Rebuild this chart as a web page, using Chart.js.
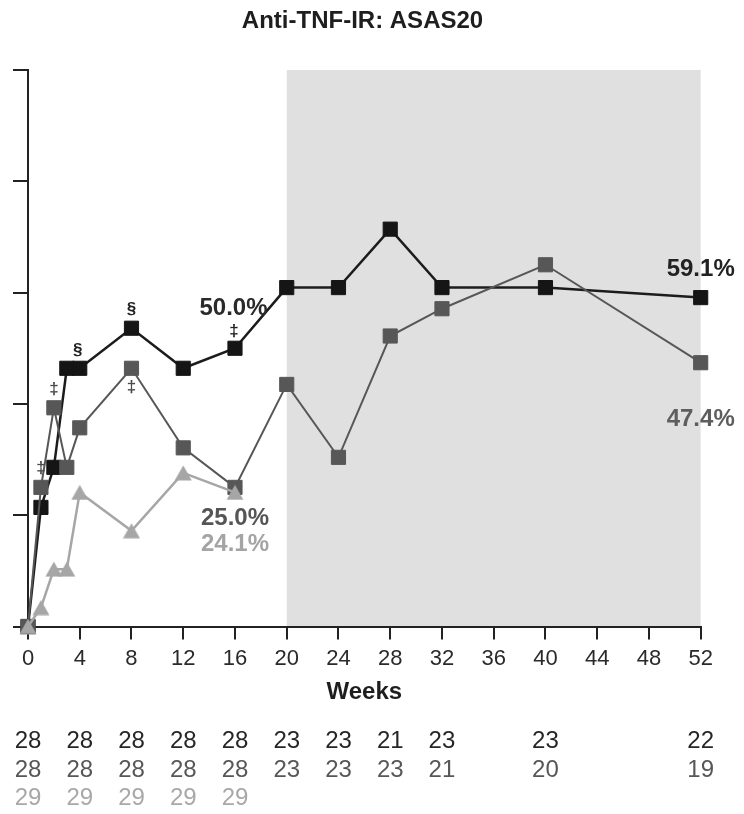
<!DOCTYPE html>
<html>
<head>
<meta charset="utf-8">
<script src="https://cdn.jsdelivr.net/npm/chart.js@4.4.0/dist/chart.umd.min.js"></script>
<style>
  html, body { margin: 0; padding: 0; background: #ffffff; }
  canvas { display: block; }
</style>
</head>
<body>
<canvas id="asas" width="744" height="814"></canvas>
<script>
// ---- data (percent of responders) ----
const weeks        = [0, 1, 2, 3, 4, 8, 12, 16, 20, 24, 28, 32, 40, 52];
const highDose     = [0, 21.4, 28.6, 46.4, 46.4, 53.6, 46.4, 50.0, 60.9, 60.9, 71.4, 60.9, 60.9, 59.1];
const lowDose      = [0, 25.0, 39.3, 28.6, 35.7, 46.4, 32.1, 25.0, 43.5, 30.4, 52.2, 57.1, 65.0, 47.4];
const placeboWeeks = [0, 1, 2, 3, 4, 8, 12, 16];
const placebo      = [0, 3.4, 10.3, 10.3, 24.1, 17.2, 27.6, 24.1];

const weekTicks = [0, 4, 8, 12, 16, 20, 24, 28, 32, 36, 40, 44, 48, 52];
const pctTicks  = [0, 20, 40, 60, 80, 100];

// patients at each visit
const atRiskWeeks   = [0, 4, 8, 12, 16, 20, 24, 28, 32, 40, 52];
const atRiskHigh    = [28, 28, 28, 28, 28, 23, 23, 21, 23, 23, 22];
const atRiskLow     = [28, 28, 28, 28, 28, 23, 23, 23, 21, 20, 19];
const atRiskPlacebo = [29, 29, 29, 29, 29];

// shaded extension period
const extensionStart = 20;
const extensionEnd   = 52;

const FONT = "'Liberation Sans', Arial, Helvetica, sans-serif";
const C_HIGH = '#151515', C_LOW = '#575757', C_PBO = '#a6a6a6';

const toXY = (xs, ys) => xs.map((x, i) => ({ x: x, y: ys[i] }));
const valueAt = (xs, ys, w) => ys[xs.indexOf(w)];

// upward triangle marker centred on its bounding box
function makeTriangle(w, h, color) {
  const c = document.createElement('canvas');
  c.width = w; c.height = h;
  const g = c.getContext('2d');
  g.fillStyle = color;
  g.beginPath();
  g.moveTo(w / 2, 0.5);
  g.lineTo(w - 0.5, h - 0.5);
  g.lineTo(0.5, h - 0.5);
  g.closePath();
  g.fill();
  return c;
}
const triangle = makeTriangle(18, 16, C_PBO);

const decor = {
  id: 'decor',
  beforeDraw(chart) {
    const { ctx } = chart;
    const xs = chart.scales.x, ys = chart.scales.y;
    ctx.save();
    ctx.fillStyle = '#ffffff';
    ctx.fillRect(0, 0, chart.width, chart.height);
    const x0 = xs.getPixelForValue(extensionStart), x1 = xs.getPixelForValue(extensionEnd);
    const y0 = ys.getPixelForValue(100), y1 = ys.getPixelForValue(0);
    ctx.fillStyle = '#e0e0e0';
    ctx.fillRect(x0, y0, x1 - x0, y1 - y0);
    ctx.restore();
  },
  afterDatasetsDraw(chart) {
    const { ctx } = chart;
    const xs = chart.scales.x, ys = chart.scales.y;
    const px = w => xs.getPixelForValue(w);
    const py = v => ys.getPixelForValue(v);
    ctx.save();
    ctx.textAlign = 'center';
    ctx.textBaseline = 'middle';

    // value call-outs
    const pct = v => v.toFixed(1) + '%';
    ctx.font = 'bold 24px ' + FONT;
    const h16 = valueAt(weeks, highDose, 16), l16 = valueAt(weeks, lowDose, 16);
    const p16 = valueAt(placeboWeeks, placebo, 16);
    const h52 = valueAt(weeks, highDose, 52), l52 = valueAt(weeks, lowDose, 52);
    ctx.fillStyle = '#2a2a2a'; ctx.fillText(pct(h16), px(16) - 1.5, py(h16) - 40);
    ctx.fillStyle = '#555555'; ctx.fillText(pct(l16), px(16), py(l16) + 31);
    ctx.fillStyle = '#a4a4a4'; ctx.fillText(pct(p16), px(16), py(p16) + 52);
    ctx.fillStyle = '#222222'; ctx.fillText(pct(h52), px(52), py(h52) - 28);
    ctx.fillStyle = '#5e5e5e'; ctx.fillText(pct(l52), px(52), py(l52) + 57);

    // significance symbols
    ctx.font = 'bold 17px ' + FONT;
    const marks = [
      { vals: highDose, week: 4,  sym: '\u00A7', dy: -18, dx: -2, color: '#222' },
      { vals: highDose, week: 8,  sym: '\u00A7', dy: -19, dx: 0,  color: '#222' },
      { vals: highDose, week: 16, sym: '\u2021', dy: -17, dx: -1, color: '#222' },
      { vals: lowDose,  week: 1,  sym: '\u2021', dy: -19, dx: 0,  color: '#4a4a4a' },
      { vals: lowDose,  week: 2,  sym: '\u2021', dy: -18.5, dx: 0, color: '#4a4a4a' },
      { vals: lowDose,  week: 8,  sym: '\u2021', dy: 19,  dx: 0,  color: '#4a4a4a' }
    ];
    marks.forEach(m => {
      ctx.fillStyle = m.color;
      ctx.fillText(m.sym, px(m.week) + m.dx, py(valueAt(weeks, m.vals, m.week)) + m.dy);
    });
    ctx.restore();
  },
  afterDraw(chart) {
    const { ctx } = chart;
    const xs = chart.scales.x;
    ctx.save();
    ctx.textAlign = 'center';
    ctx.textBaseline = 'middle';

    ctx.font = 'bold 24px ' + FONT;
    ctx.fillStyle = '#1e1e1e';
    ctx.fillText('Anti-TNF-IR: ASAS20', 362.5, 21);

    ctx.font = '24px ' + FONT;
    const rows = [
      { vals: atRiskHigh,    y: 741, color: '#262626' },
      { vals: atRiskLow,     y: 770, color: '#575757' },
      { vals: atRiskPlacebo, y: 798, color: '#a8a8a8' }
    ];
    rows.forEach(r => {
      ctx.fillStyle = r.color;
      r.vals.forEach((n, i) => ctx.fillText(String(n), xs.getPixelForValue(atRiskWeeks[i]), r.y));
    });
    ctx.restore();
  }
};

new Chart(document.getElementById('asas'), {
  type: 'line',
  data: {
    datasets: [
      {
        label: 'Placebo',
        data: toXY(placeboWeeks, placebo),
        borderColor: C_PBO, borderWidth: 2.5,
        backgroundColor: C_PBO,
        pointStyle: triangle, pointRadius: 9,
        order: 0, clip: false, tension: 0
      },
      {
        label: 'Low dose',
        data: toXY(weeks, lowDose),
        borderColor: C_LOW, borderWidth: 2,
        backgroundColor: C_LOW,
        pointStyle: 'rect', pointRadius: 10, pointBorderWidth: 1, pointBorderColor: C_LOW,
        order: 1, clip: false, tension: 0
      },
      {
        label: 'High dose',
        data: toXY(weeks, highDose),
        borderColor: '#1c1c1c', borderWidth: 2.5,
        backgroundColor: C_HIGH,
        pointStyle: 'rect', pointRadius: 10, pointBorderWidth: 1, pointBorderColor: C_HIGH,
        order: 2, clip: false, tension: 0
      }
    ]
  },
  options: {
    responsive: false,
    animation: false,
    devicePixelRatio: 1,
    layout: { padding: { left: 13, right: 43.3, top: 70, bottom: 107.3 } },
    plugins: { legend: { display: false }, tooltip: { enabled: false }, title: { display: false } },
    scales: {
      x: {
        type: 'linear', min: 0, max: 52,
        afterBuildTicks: s => { s.ticks = weekTicks.map(v => ({ value: v })); },
        ticks: {
          color: '#2a2a2a', font: { family: FONT, size: 22 }, padding: 6,
          maxRotation: 0, autoSkip: false, callback: v => String(v)
        },
        grid: { display: true, drawOnChartArea: false, drawTicks: true, tickLength: 13, color: '#222', lineWidth: 2 },
        border: { display: true, color: '#222', width: 2 },
        title: {
          display: true, text: 'Weeks', color: '#1e1e1e',
          font: { family: FONT, size: 24, weight: 'bold' }, padding: { top: 0, bottom: 0 }
        }
      },
      y: {
        type: 'linear', min: 0, max: 100,
        afterBuildTicks: s => { s.ticks = pctTicks.map(v => ({ value: v })); },
        ticks: { display: false },
        grid: { display: true, drawOnChartArea: false, drawTicks: true, tickLength: 15, color: '#222', lineWidth: 2 },
        border: { display: true, color: '#222', width: 2 }
      }
    }
  },
  plugins: [decor]
});
</script>
</body>
</html>
